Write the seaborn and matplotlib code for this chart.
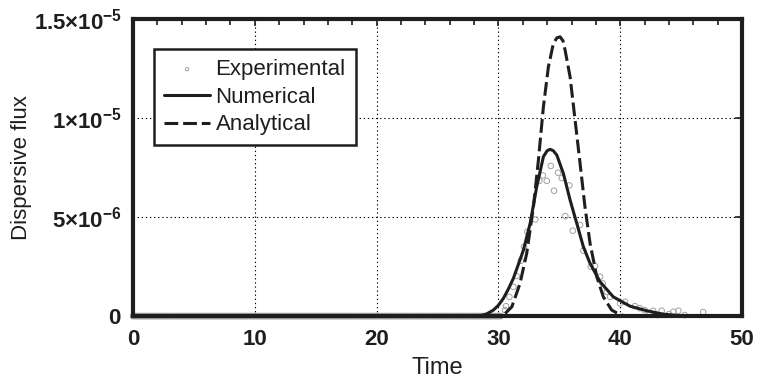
import numpy as np
import pandas as pd
import matplotlib
matplotlib.use("Agg")
import matplotlib.pyplot as plt
import seaborn as sns
from matplotlib.ticker import MultipleLocator, FixedLocator, FixedFormatter

# ---------------- data ----------------
num_t = [0, 10, 20, 28.0, 28.5, 29.0, 29.58, 30.0, 30.4, 30.8, 31.22, 31.6, 32.05, 32.6, 33.14,
         33.69, 34.0, 34.24, 34.5, 34.79, 35.33, 35.88, 36.43, 36.97, 37.52, 38.34, 39.43,
         40.8, 42.17, 43.5, 44.9, 50]
num_v = [0, 0, 0, 0, 0.02e-6, 0.1e-6, 0.3e-6, 0.55e-6, 0.89e-6, 1.35e-6, 1.9e-6, 2.55e-6, 3.33e-6,
         4.68e-6, 6.53e-6, 8.05e-6, 8.35e-6, 8.42e-6, 8.35e-6, 8.13e-6, 7.2e-6, 5.86e-6,
         4.68e-6, 3.5e-6, 2.66e-6, 1.73e-6, 0.97e-6, 0.5e-6, 0.27e-6, 0.1e-6, 0.02e-6, 0]

ana_t = [0, 10, 20, 30.0, 30.5, 31.1, 31.77, 32.32, 32.87, 33.28, 33.69, 34.1, 34.51, 34.8,
         35.06, 35.3, 35.47, 35.88, 36.29, 36.7, 37.1, 37.52, 38.07, 38.61, 39.3, 39.98, 40.5, 50]
ana_v = [0, 0, 0, 0, 0.1e-6, 0.47e-6, 1.65e-6, 3.17e-6, 5.52e-6, 7.88e-6, 10.57e-6, 12.59e-6,
         13.77e-6, 14.05e-6, 14.1e-6, 13.9e-6, 13.43e-6, 12.08e-6, 9.9e-6, 7.71e-6, 5.52e-6,
         3.67e-6, 1.99e-6, 0.97e-6, 0.3e-6, 0.07e-6, 0, 0]

exp_base_t = list(np.round(np.arange(0.0, 30.3, 0.1), 2))
exp_base_v = [0.0] * len(exp_base_t)
exp_peak_t = [30.54, 30.62, 30.9, 31.22, 31.5, 31.83, 32.1, 32.37, 33.03, 33.36, 33.64, 33.97,
              34.29, 34.56, 34.89, 35.2, 35.49, 35.82, 36.1, 36.7, 36.97, 37.58, 37.93, 38.34,
              38.56, 38.89, 39.16, 39.98, 40.39, 41.2, 41.6, 42.0, 42.4, 42.7, 43.1, 43.4,
              44.0, 44.36, 44.77, 45.3, 46.8]
exp_peak_v = [0.30e-6, 0.5e-6, 0.97e-6, 1.48e-6, 2.02e-6, 2.79e-6, 3.5e-6, 4.26e-6, 4.88e-6,
              6.83e-6, 7.1e-6, 6.83e-6, 7.58e-6, 6.33e-6, 7.24e-6, 6.97e-6, 5.05e-6, 6.6e-6,
              4.31e-6, 4.6e-6, 3.3e-6, 2.49e-6, 2.53e-6, 1.99e-6, 1.65e-6, 1.23e-6, 0.97e-6,
              0.64e-6, 0.72e-6, 0.5e-6, 0.4e-6, 0.3e-6, 0.1e-6, 0.27e-6, 0.05e-6, 0.27e-6,
              0.1e-6, 0.22e-6, 0.27e-6, 0.05e-6, 0.2e-6]

xticks = [0, 10, 20, 30, 40, 50]
yticks = [0, 5e-6, 1e-5, 1.5e-5]
ytick_labels = [r"$\mathbf{0}$", r"$\mathbf{5{\times}10^{-6}}$",
                r"$\mathbf{1{\times}10^{-5}}$", r"$\mathbf{1.5{\times}10^{-5}}$"]

# ---------------- style ----------------
sns.set_theme(style="white")
plt.rcParams["font.family"] = ["Liberation Sans", "DejaVu Sans"]
plt.rcParams["mathtext.fontset"] = "custom"
plt.rcParams["mathtext.rm"] = "Liberation Sans"
plt.rcParams["mathtext.bf"] = "Liberation Sans:bold"
plt.rcParams["mathtext.it"] = "Liberation Sans:italic"

INK = "#1e1e1e"
fig = plt.figure(figsize=(7.58, 3.85), dpi=100)
ax = fig.add_axes([0.1755, 0.179, 0.8035, 0.7716])

exp_df = pd.DataFrame({"t": exp_base_t + exp_peak_t, "v": exp_base_v + exp_peak_v})
num_df = pd.DataFrame({"t": num_t, "v": num_v})
ana_df = pd.DataFrame({"t": ana_t, "v": ana_v})

sns.scatterplot(data=exp_df, x="t", y="v", ax=ax, marker="o", s=16,
                facecolor="none", edgecolor="#a0a0a0", linewidth=0.7,
                label="Experimental", clip_on=False, zorder=1)
sns.lineplot(data=num_df, x="t", y="v", ax=ax, color=INK, lw=2.2,
             label="Numerical", zorder=3)
sns.lineplot(data=ana_df, x="t", y="v", ax=ax, color=INK, lw=2.2,
             label="Analytical", zorder=3)
ax.lines[-1].set_dashes((4.5, 1.6))

ax.set_xlim(0, 50)
ax.set_ylim(0, 1.5e-5)
ax.xaxis.set_major_locator(FixedLocator(xticks))
ax.xaxis.set_minor_locator(MultipleLocator(2))
ax.yaxis.set_major_locator(FixedLocator(yticks))
ax.yaxis.set_major_formatter(FixedFormatter(ytick_labels))
ax.set_xticklabels([str(v) for v in xticks], fontweight="bold")

ax.tick_params(axis="both", which="both", direction="in", top=True, right=True,
               labelsize=16, colors=INK)
ax.tick_params(axis="x", which="major", pad=9)
ax.tick_params(axis="y", which="major", pad=8)
ax.tick_params(axis="both", which="major", length=5, width=1.2)
ax.tick_params(axis="x", which="minor", length=4, width=1.2)
for lab in ax.get_xticklabels():
    lab.set_fontweight("bold")

for s in ax.spines.values():
    s.set_linewidth(3)
    s.set_color(INK)
    s.set_zorder(2.5)

ax.grid(True, which="major", color="black", linestyle=(0, (1.2, 2.5)), linewidth=0.8)
for gl in ax.get_xgridlines() + ax.get_ygridlines():
    gl.set_zorder(0.5)

ax.set_xlabel("Time", fontsize=17, color=INK, labelpad=5)
ax.set_ylabel("Dispersive flux", fontsize=16, color=INK, labelpad=1)

leg = ax.legend(loc="upper left", bbox_to_anchor=(0.035, 0.899), borderaxespad=0,
                fontsize=16, frameon=True, fancybox=False, edgecolor=INK, framealpha=1,
                handlelength=2.05, handletextpad=0.25, borderpad=0.45, labelspacing=0.3,
                markerscale=0.6)
leg.get_frame().set_linewidth(1.8)
for t in leg.get_texts():
    t.set_color(INK)

fig.savefig("out.png", dpi=100)
